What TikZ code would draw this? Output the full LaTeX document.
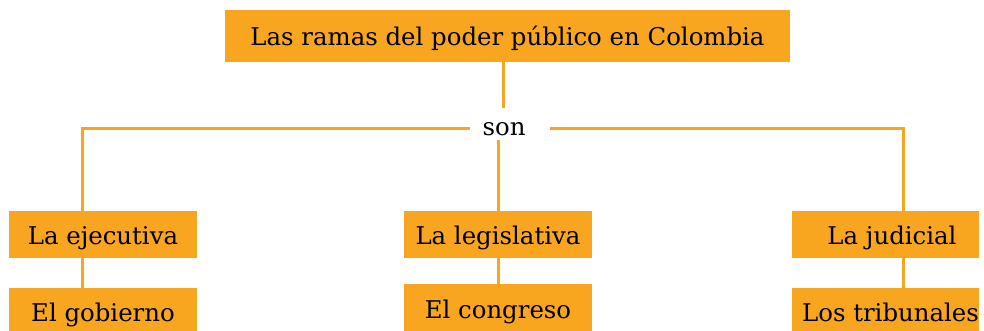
\documentclass[tikz,border=0pt]{standalone}
\usepackage{fontspec}
\setmainfont{DejaVu Serif}
\definecolor{naranja}{HTML}{F8A51F}
\tikzset{
  texto/.style={font=\fontsize{24.4}{28}\selectfont, text=black, inner sep=0pt, text height=22pt, text depth=2.5pt},
  caja/.style={texto, fill=naranja},
  linea/.style={draw=naranja, line width=3pt},
}
\begin{document}
\begin{tikzpicture}[x=1pt,y=-1pt]
\useasboundingbox (0,0) rectangle (984,330);
\clip (0,0) rectangle (984,330);
\node[caja, minimum width=565pt, minimum height=52pt] (top) at (507.5,36) {Las ramas del poder público en Colombia};
\node[texto, minimum width=80pt, minimum height=28pt] (son) at (504,126) {son};
\node[caja, minimum width=188pt, minimum height=47pt] (eje) at (103,234.5) {La ejecutiva};
\node[caja, minimum width=188pt, minimum height=47pt] (leg) at (498,234.5) {La legislativa};
\node[caja, minimum width=187pt, minimum height=47pt] (jud) at (885.5,234.5) {\hspace*{13pt}La judicial};
\node[caja, minimum width=188pt, minimum height=48pt] (gob) at (103,312) {El gobierno};
\node[caja, minimum width=188pt, minimum height=50pt] (con) at (498,309) {El congreso};
\node[caja, minimum width=187pt, minimum height=48pt] (tri) at (885.5,312) {\hspace*{10pt}Los tribunales};
\draw[linea] (top.south -| 503,0) -- ([xshift=-1pt,yshift=4pt]son.north);
\draw[linea] ([xshift=6pt,yshift=-2pt]son.west) -| ([xshift=-21pt]eje.north);
\draw[linea] ([xshift=6pt,yshift=-2pt]son.east) -| ([xshift=17.5pt]jud.north);
\draw[linea] ([yshift=0pt]son.south -| leg.north) -- (leg.north);
\draw[linea] ([xshift=-21pt]eje.south) -- ([xshift=-21pt,yshift=-4pt]gob.north);
\draw[linea] (leg.south) -- (con.north);
\draw[linea] ([xshift=17.5pt]jud.south) -- ([xshift=17.5pt,yshift=-4pt]tri.north);
\end{tikzpicture}
\end{document}
